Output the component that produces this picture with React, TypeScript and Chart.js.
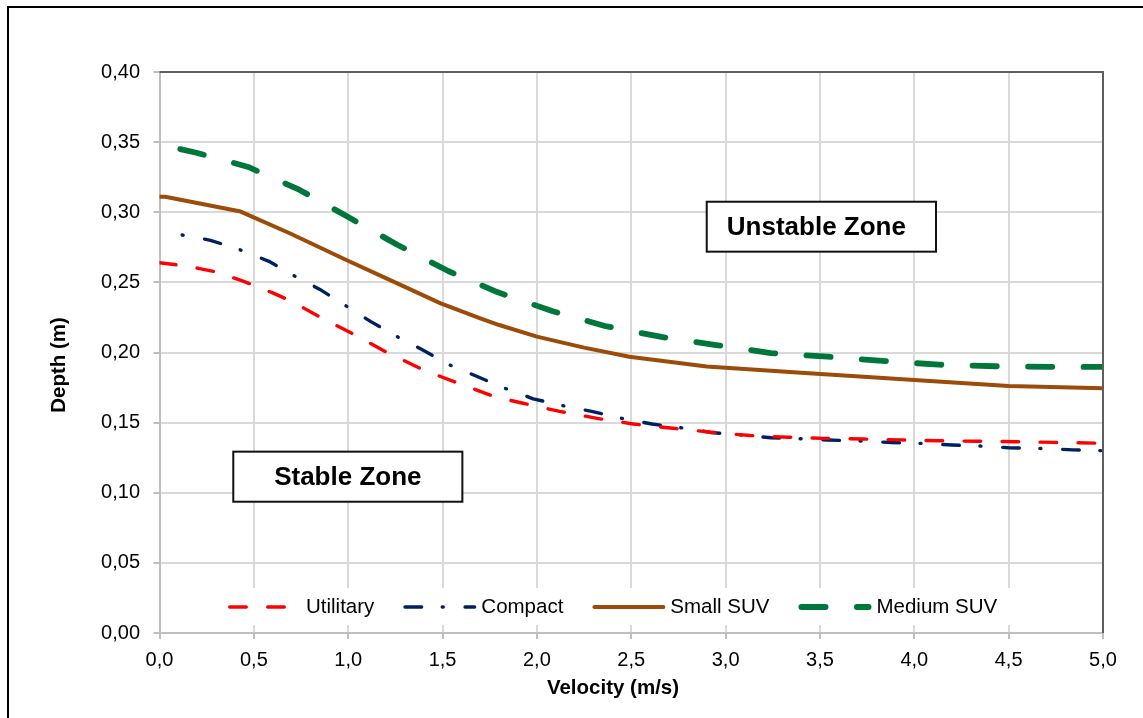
import { useEffect, useRef } from 'react';
import { Chart, registerables } from 'chart.js';

Chart.register(...registerables);

const FONT = '"Liberation Sans", Arial, Helvetica, sans-serif';

// Stability thresholds: flow depth (m) against flow velocity (m/s)
const utilitaryVelocity = [0.0, 0.15, 0.3, 0.45, 0.6, 0.7, 0.86, 1.05, 1.21, 1.4, 1.58, 1.78, 1.92, 2.12, 2.32, 2.51, 2.72, 2.92, 3.13, 3.33, 3.52, 3.73, 3.93, 4.13, 4.33, 4.54, 4.74, 5.0];
const utilitaryDepth = [0.264, 0.2615, 0.2575, 0.2505, 0.2425, 0.2365, 0.2246, 0.2116, 0.1997, 0.1875, 0.1782, 0.1683, 0.164, 0.158, 0.153, 0.149, 0.146, 0.1432, 0.1408, 0.1396, 0.1388, 0.1383, 0.1377, 0.1371, 0.1367, 0.1364, 0.1359, 0.1353];

const compactVelocity = [0.12, 0.27, 0.42, 0.58, 0.71, 0.85, 0.99, 1.12, 1.26, 1.4, 1.54, 1.69, 1.83, 1.98, 2.14, 2.29, 2.45, 2.61, 2.76, 2.92, 3.08, 3.24, 3.4, 3.54, 3.72, 3.88, 4.04, 4.2, 4.35, 4.5, 4.67, 4.84, 5.0];
const compactDepth = [0.2838, 0.28, 0.2736, 0.265, 0.255, 0.245, 0.2331, 0.222, 0.2113, 0.2014, 0.191, 0.1825, 0.1745, 0.167, 0.162, 0.158, 0.153, 0.149, 0.1464, 0.143, 0.1412, 0.1392, 0.1385, 0.1376, 0.1369, 0.1358, 0.1352, 0.134, 0.1333, 0.1321, 0.1316, 0.1306, 0.13];

const smallSuvVelocity = [0.0, 0.03, 0.43, 0.69, 0.99, 1.26, 1.49, 1.7, 1.8, 2.0, 2.25, 2.49, 2.9, 3.4, 4.0, 4.5, 5.0];
const smallSuvDepth = [0.311, 0.311, 0.3005, 0.285, 0.266, 0.2493, 0.235, 0.2244, 0.2196, 0.2113, 0.2035, 0.197, 0.19, 0.1855, 0.1804, 0.1761, 0.1745];

const mediumSuvVelocity = [0.11, 0.19, 0.47, 0.74, 1.0, 1.26, 1.53, 1.79, 2.08, 2.36, 2.66, 2.95, 3.24, 3.54, 3.83, 4.13, 4.43, 4.72, 5.0];
const mediumSuvDepth = [0.345, 0.3426, 0.3323, 0.3161, 0.2966, 0.2768, 0.2581, 0.2431, 0.2296, 0.2189, 0.2111, 0.2053, 0.1996, 0.197, 0.194, 0.1913, 0.1902, 0.1898, 0.1897];

const seriesNames = ['Utilitary', 'Compact', 'Small SUV', 'Medium SUV'];

const velocityTickLabels = ['0,0', '0,5', '1,0', '1,5', '2,0', '2,5', '3,0', '3,5', '4,0', '4,5', '5,0'];
const depthTickLabels = ['0,00', '0,05', '0,10', '0,15', '0,20', '0,25', '0,30', '0,35', '0,40'];

const zoneLabels = ['Stable Zone', 'Unstable Zone'];

const toPoints = (xs: number[], ys: number[]) => xs.map((x, i) => ({ x, y: ys[i] }));

// Zone annotation boxes, placed in data units
const zones = [
  { text: zoneLabels[0], v0: 0.391, v1: 1.605, d0: 0.1293, d1: 0.0936, textShift: 0 },
  { text: zoneLabels[1], v0: 2.9, v1: 4.115, d0: 0.3075, d1: 0.2719, textShift: -5 },
];

const decorPlugin = {
  id: 'decor',
  beforeDraw(chart: any) {
    const { ctx, width, height } = chart;
    ctx.save();
    ctx.fillStyle = '#ffffff';
    ctx.fillRect(0, 0, width, height);
    // outer frame (top and left edges are within the page)
    ctx.strokeStyle = '#000000';
    ctx.lineWidth = 2;
    ctx.beginPath();
    ctx.moveTo(8, height + 5);
    ctx.lineTo(8, 7);
    ctx.lineTo(width + 5, 7);
    ctx.stroke();
    ctx.restore();
  },
  afterDraw(chart: any) {
    const { ctx, chartArea } = chart;
    const { left, right, top, bottom } = chartArea;
    const xs = chart.scales.x;
    const ys = chart.scales.y;
    ctx.save();

    // plot frame on the top and right
    ctx.strokeStyle = '#5f5f5f';
    ctx.lineWidth = 2;
    ctx.beginPath();
    ctx.moveTo(left, top);
    ctx.lineTo(right, top);
    ctx.lineTo(right, bottom);
    ctx.stroke();

    // legend inside the plot
    const legendY = 607;
    ctx.fillStyle = '#ffffff';
    ctx.fillRect(215, 588, 800, 37);
    ctx.font = `20.5px ${FONT}`;
    ctx.textBaseline = 'middle';
    ctx.textAlign = 'left';
    let x = 228;
    chart.data.datasets.forEach((ds: any) => {
      const w = ds.borderWidth;
      ctx.save();
      ctx.strokeStyle = ds.borderColor;
      ctx.lineWidth = w;
      ctx.lineCap = 'round';
      ctx.setLineDash(ds.borderDash || []);
      ctx.lineDashOffset = 0;
      ctx.beginPath();
      ctx.moveTo(x + w / 2, legendY);
      ctx.lineTo(x + 73 - w / 2, legendY);
      ctx.stroke();
      ctx.restore();
      ctx.fillStyle = '#000000';
      ctx.fillText(ds.label, x + 78, legendY);
      x += 78 + ctx.measureText(ds.label).width + 29;
    });

    // zone boxes
    zones.forEach((z) => {
      const x0 = xs.getPixelForValue(z.v0);
      const x1 = xs.getPixelForValue(z.v1);
      const y0 = ys.getPixelForValue(z.d0);
      const y1 = ys.getPixelForValue(z.d1);
      ctx.fillStyle = '#ffffff';
      ctx.fillRect(x0, y0, x1 - x0, y1 - y0);
      ctx.strokeStyle = '#111111';
      ctx.lineWidth = 2;
      ctx.setLineDash([]);
      ctx.strokeRect(x0, y0, x1 - x0, y1 - y0);
      ctx.fillStyle = '#000000';
      ctx.font = `bold 26px ${FONT}`;
      ctx.textAlign = 'center';
      ctx.textBaseline = 'middle';
      ctx.fillText(z.text, (x0 + x1) / 2 + z.textShift, (y0 + y1) / 2 + 1);
    });

    // axis titles
    ctx.fillStyle = '#000000';
    ctx.font = `bold 20.5px ${FONT}`;
    ctx.textAlign = 'center';
    ctx.textBaseline = 'middle';
    ctx.fillText('Velocity (m/s)', 613, 688);
    ctx.save();
    ctx.translate(59, 365);
    ctx.rotate(-Math.PI / 2);
    ctx.fillText('Depth (m)', 0, 0);
    ctx.restore();

    ctx.restore();
  },
};

export default function App() {
  const canvasRef = useRef<HTMLCanvasElement | null>(null);

  useEffect(() => {
    const canvas = canvasRef.current;
    if (!canvas) return;
    Chart.defaults.font.family = FONT;

    const chart = new Chart(canvas, {
      type: 'line',
      data: {
        datasets: [
          {
            label: seriesNames[0],
            data: toPoints(utilitaryVelocity, utilitaryDepth),
            borderColor: '#ff0000',
            borderWidth: 3.4,
            borderDash: [16.6, 21.4],
            borderCapStyle: 'round',
            borderJoinStyle: 'round',
            pointRadius: 0,
            fill: false,
            tension: 0,
          },
          {
            label: seriesNames[1],
            data: toPoints(compactVelocity, compactDepth),
            borderColor: '#002060',
            borderWidth: 3.4,
            borderDash: [16.6, 20.6, 1, 21.8],
            borderDashOffset: 37.2,
            borderCapStyle: 'round',
            borderJoinStyle: 'round',
            pointRadius: 0,
            fill: false,
            tension: 0,
          },
          {
            label: seriesNames[2],
            data: toPoints(smallSuvVelocity, smallSuvDepth),
            borderColor: '#9a4c08',
            borderWidth: 4,
            borderCapStyle: 'round',
            borderJoinStyle: 'round',
            pointRadius: 0,
            fill: false,
            tension: 0,
          },
          {
            label: seriesNames[3],
            data: toPoints(mediumSuvVelocity, mediumSuvDepth),
            borderColor: '#00773a',
            borderWidth: 5.8,
            borderDash: [24.2, 31.3],
            borderCapStyle: 'round',
            borderJoinStyle: 'round',
            pointRadius: 0,
            fill: false,
            tension: 0,
          },
        ],
      },
      options: {
        animation: false,
        responsive: false,
        devicePixelRatio: 1,
        layout: { padding: { top: 72, right: 40, bottom: 0, left: 0 } },
        plugins: {
          legend: { display: false },
          tooltip: { enabled: false },
          title: { display: false },
        },
        scales: {
          x: {
            type: 'linear',
            min: 0,
            max: 5,
            afterFit: (s: any) => {
              s.height = 85;
            },
            ticks: {
              stepSize: 0.5,
              autoSkip: false,
              maxRotation: 0,
              color: '#000000',
              padding: 9,
              font: { family: FONT, size: 20 },
              callback: (_v: any, i: number) => velocityTickLabels[i],
            },
            grid: { color: '#d9d9d9', lineWidth: 2, tickLength: 6, tickColor: '#bfbfbf' },
            border: { color: '#bfbfbf', width: 2 },
          },
          y: {
            type: 'linear',
            min: 0,
            max: 0.4,
            afterFit: (s: any) => {
              s.width = 159.5;
            },
            ticks: {
              stepSize: 0.05,
              color: '#000000',
              padding: 13.5,
              font: { family: FONT, size: 20 },
              callback: (_v: any, i: number) => depthTickLabels[i],
            },
            grid: { color: '#d9d9d9', lineWidth: 2, tickLength: 6, tickColor: '#bfbfbf' },
            border: { color: '#bfbfbf', width: 2 },
          },
        },
      } as any,
      plugins: [decorPlugin],
    });

    return () => chart.destroy();
  }, []);

  return (
    <div style={{ position: 'fixed', left: 0, top: 0, width: 1143, height: 718, background: '#ffffff' }}>
      <canvas ref={canvasRef} width={1143} height={718} style={{ display: 'block' }} />
    </div>
  );
}
